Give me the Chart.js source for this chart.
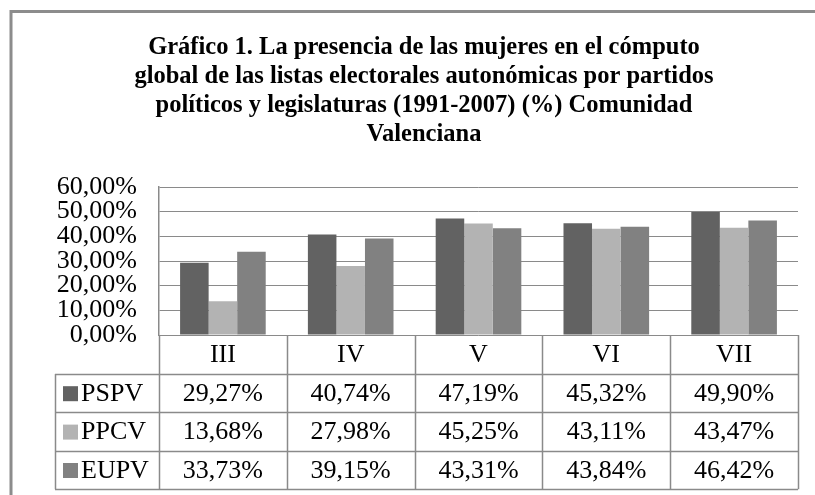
<!DOCTYPE html>
<html>
<head>
<meta charset="utf-8">
<script src="https://cdn.jsdelivr.net/npm/chart.js@4/dist/chart.umd.min.js"></script>
<style>
  body { margin: 0; background: #fff; }
  #wrap { width: 815px; height: 495px; }
</style>
</head>
<body>
<div id="wrap"><canvas id="chart"></canvas></div>
<script>
const categories = ['III', 'IV', 'V', 'VI', 'VII'];
const pspv = [29.27, 40.74, 47.19, 45.32, 49.90];
const ppcv = [13.68, 27.98, 45.25, 43.11, 43.47];
const eupv = [33.73, 39.15, 43.31, 43.84, 46.42];
const seriesNames = ['PSPV', 'PPCV', 'EUPV'];
const yTicks = [0, 10, 20, 30, 40, 50, 60];
const titleLines = [
  'Gráfico 1. La presencia de las mujeres en el cómputo',
  'global de las listas electorales autonómicas por partidos',
  'políticos y legislaturas (1991-2007) (%) Comunidad',
  'Valenciana'
];

const colors = ['#626262', '#b3b3b3', '#818181'];
const lineColor = '#8a8a8a';
const serif = '"Liberation Serif", "Times New Roman", serif';
const textSize = 26;

function pct(v) {
  return v.toFixed(2).replace('.', ',') + '%';
}

// grey frame round the chart (cut off on the right and bottom in the original)
const framePlugin = {
  id: 'frame',
  beforeDraw(chart) {
    const ctx = chart.ctx;
    ctx.save();
    ctx.fillStyle = '#fff';
    ctx.fillRect(0, 0, chart.width, chart.height);
    ctx.strokeStyle = '#8c8c8c';
    ctx.lineWidth = 3;
    ctx.beginPath();
    ctx.moveTo(11, chart.height);
    ctx.lineTo(11, 11.5);
    ctx.lineTo(chart.width, 11.5);
    ctx.stroke();
    ctx.restore();
  }
};

// data table under the plot, lined up with the x scale
const tablePlugin = {
  id: 'dataTable',
  afterDraw(chart) {
    const ctx = chart.ctx;
    const xs = chart.scales.x;
    const area = chart.chartArea;
    const n = categories.length;
    const colW = (xs.right - xs.left) / n;
    const labelTop = area.bottom;
    const tableTop = labelTop + 39;
    const rowH = 38.4;
    const tableBottom = tableTop + rowH * seriesNames.length;
    const legendLeft = 55;
    const rows = [pspv, ppcv, eupv];

    ctx.save();
    ctx.strokeStyle = lineColor;
    ctx.lineWidth = 1.5;
    ctx.beginPath();
    for (let i = 0; i <= n; i++) {
      const x = Math.round(xs.left + i * colW) + 0.5;
      ctx.moveTo(x, labelTop);
      ctx.lineTo(x, tableBottom);
    }
    ctx.moveTo(legendLeft + 0.5, tableTop);
    ctx.lineTo(legendLeft + 0.5, tableBottom);
    for (let j = 0; j <= seriesNames.length; j++) {
      const y = Math.round(tableTop + j * rowH) + 0.5;
      ctx.moveTo(legendLeft, y);
      ctx.lineTo(xs.right, y);
    }
    ctx.stroke();

    ctx.font = textSize + 'px ' + serif;
    ctx.fillStyle = '#000';
    ctx.textBaseline = 'middle';
    ctx.textAlign = 'center';
    categories.forEach((c, i) => {
      ctx.fillText(c, xs.getPixelForTick(i), labelTop + 20);
    });

    rows.forEach((vals, j) => {
      const mid = tableTop + j * rowH + rowH / 2 + 1;
      ctx.textAlign = 'center';
      ctx.fillStyle = '#000';
      vals.forEach((v, i) => {
        ctx.fillText(pct(v), xs.getPixelForTick(i), mid);
      });
      ctx.fillStyle = colors[j];
      ctx.fillRect(63, mid - 8, 15, 15);
      ctx.fillStyle = '#000';
      ctx.textAlign = 'left';
      ctx.fillText(seriesNames[j], 81, mid);
    });
    ctx.restore();
  }
};

const ctx = document.getElementById('chart').getContext('2d');
new Chart(ctx, {
  type: 'bar',
  data: {
    labels: categories,
    datasets: [
      { label: seriesNames[0], data: pspv, backgroundColor: colors[0] },
      { label: seriesNames[1], data: ppcv, backgroundColor: colors[1] },
      { label: seriesNames[2], data: eupv, backgroundColor: colors[2] }
    ]
  },
  options: {
    responsive: true,
    maintainAspectRatio: false,
    animation: false,
    devicePixelRatio: 1,
    layout: { padding: { left: 50, right: 17, top: 0, bottom: 160 } },
    datasets: {
      bar: { categoryPercentage: 0.67, barPercentage: 1.0 }
    },
    plugins: {
      legend: { display: false },
      tooltip: { enabled: false },
      title: {
        display: true,
        text: titleLines,
        color: '#000',
        font: { family: serif, size: 24.5, weight: 'bold', lineHeight: 29 / 24.5 },
        padding: { top: 33, bottom: 38 }
      }
    },
    scales: {
      x: { display: false },
      y: {
        min: 0,
        max: 60,
        afterBuildTicks(scale) {
          scale.ticks = yTicks.map(v => ({ value: v }));
        },
        afterFit(scale) {
          scale.width = 109;
        },
        grid: { color: lineColor, lineWidth: 1, drawTicks: false },
        border: { display: true, color: lineColor, width: 1.5 },
        ticks: {
          autoSkip: false,
          padding: 22,
          color: '#000',
          font: { family: serif, size: textSize, lineHeight: 1 },
          callback: v => pct(v)
        }
      }
    }
  },
  plugins: [framePlugin, tablePlugin]
});
</script>
</body>
</html>
